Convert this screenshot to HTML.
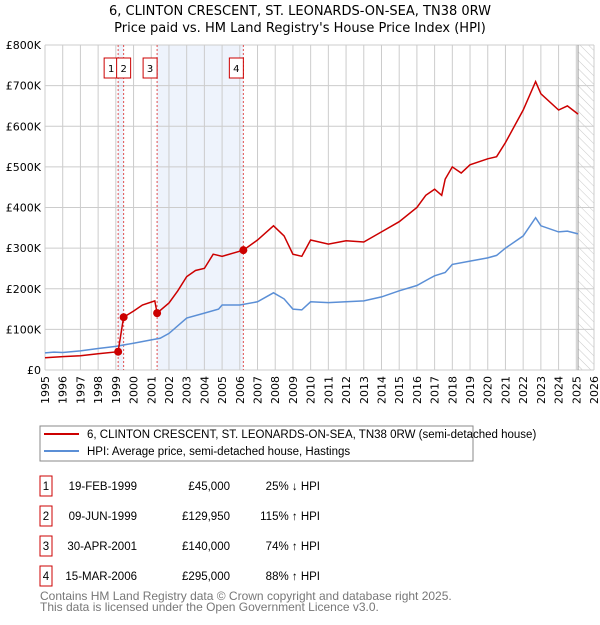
<!DOCTYPE html>
<html><head><meta charset="utf-8"><style>
body{margin:0;background:#fff;font-family:"Liberation Sans","DejaVu Sans",sans-serif}
svg text{font-family:"DejaVu Sans","Liberation Sans",sans-serif}
svg text.lib{font-family:"Liberation Sans","DejaVu Sans",sans-serif}
</style></head><body>
<svg id="c" width="600" height="620" xmlns="http://www.w3.org/2000/svg">
<defs><pattern id="hatch" width="6" height="6" patternUnits="userSpaceOnUse" patternTransform="rotate(-45)"><line x1="0" y1="0" x2="0" y2="6" stroke="#bbb" stroke-width="0.8"/></pattern></defs>
<text x="300" y="15" text-anchor="middle" font-size="13" fill="#000">6, CLINTON CRESCENT, ST. LEONARDS-ON-SEA, TN38 0RW</text>
<text x="300" y="32" text-anchor="middle" font-size="13" fill="#000">Price paid vs. HM Land Registry's House Price Index (HPI)</text>
<g id="grid"></g><g id="marks"></g>
<rect x="40" y="426" width="433" height="35" fill="#fff" stroke="#888"/>
<line x1="44" y1="434" x2="79" y2="434" stroke="#cc0000" stroke-width="2"/>
<text class="lib" x="87" y="438" font-size="11.5">6, CLINTON CRESCENT, ST. LEONARDS-ON-SEA, TN38 0RW (semi-detached house)</text>
<line x1="44" y1="451" x2="79" y2="451" stroke="#5b8fd6" stroke-width="2"/>
<text class="lib" x="87" y="455" font-size="11.5">HPI: Average price, semi-detached house, Hastings</text>
<g id="tbl" font-size="11.5"></g>
<text class="lib" x="40" y="600" font-size="12" fill="#777">Contains HM Land Registry data © Crown copyright and database right 2025.</text>
<text class="lib" x="40" y="611" font-size="12" fill="#777">This data is licensed under the Open Government Licence v3.0.</text>
</svg>
<script>
const hpiYears=[1995,1995.5,1996,1997,1998,1999,2000,2001,2001.5,2002,2003,2004,2004.8,2005,2006,2007,2007.9,2008.5,2009,2009.5,2010,2011,2012,2013,2014,2015,2016,2016.7,2017,2017.6,2018,2019,2020,2020.5,2021,2022,2022.7,2023,2024,2024.5,2025.1];
const hpiValues=[42,44,43,47,53,58,66,74,78,90,128,140,150,160,160,168,190,175,150,148,168,166,168,170,180,195,208,225,232,240,260,268,276,282,300,330,375,355,340,342,335];
const redYears=[1995,1996,1997,1998,1999.13,1999.44,2000,2000.5,2001.2,2001.33,2002,2002.5,2003,2003.5,2004,2004.5,2005,2006.2,2007,2007.9,2008.5,2009,2009.5,2010,2011,2012,2013,2014,2015,2016,2016.5,2017,2017.4,2017.6,2018,2018.5,2019,2020,2020.5,2021,2022,2022.7,2023,2024,2024.5,2025.1];
const redValues=[30,33,35,40,45,129.95,145,160,170,140,165,195,230,245,250,285,280,295,320,355,330,285,280,320,310,318,315,340,365,400,430,445,430,470,500,485,505,520,525,560,640,710,680,640,650,630];
const saleYears=[1999.13,1999.44,2001.33,2006.2];
const saleValues=[45,129.95,140,295];
const saleLabels=["1","2","3","4"];
const saleDates=["19-FEB-1999","09-JUN-1999","30-APR-2001","15-MAR-2006"];
const salePrices=["£45,000","£129,950","£140,000","£295,000"];
const saleHpi=["25% ↓ HPI","115% ↑ HPI","74% ↑ HPI","88% ↑ HPI"];
const yTicks=[0,100,200,300,400,500,600,700,800];
const yTickLabels=["£0","£100K","£200K","£300K","£400K","£500K","£600K","£700K","£800K"];
const NS="http://www.w3.org/2000/svg";
const X0=45,X1=594,Y0=370,Y1=45;
const sx=y=>X0+(y-1995)*(X1-X0)/31, sy=v=>Y0-v*(Y0-Y1)/800;
function mk(p,t,a){const e=document.createElementNS(NS,t);for(const k in a)e.setAttribute(k,a[k]);p.appendChild(e);return e;}
const g=document.getElementById('grid'),m=document.getElementById('marks'),tb=document.getElementById('tbl');
let s1=mk(g,'rect',{x:sx(saleYears[0]),y:Y1,width:sx(saleYears[1])-sx(saleYears[0]),height:Y0-Y1,fill:'#eef3fc'});


let s2=mk(g,'rect',{x:sx(saleYears[2]),y:Y1,width:sx(saleYears[3])-sx(saleYears[2]),height:Y0-Y1,fill:'#eef3fc'});


let h=mk(g,'rect',{x:sx(2025.1),y:Y1,width:X1-sx(2025.1),height:Y0-Y1,fill:'url(#hatch)'});


for(let yr=1995;yr<=2026;yr++){
  mk(g,'line',{x1:sx(yr),x2:sx(yr),y1:Y1,y2:Y0,stroke:'#ccc','stroke-width':1});
  const t=mk(g,'text',{x:0,y:0,'font-size':11,'text-anchor':'end',transform:`translate(${sx(yr)+4},${Y0+6}) rotate(-90)`});
  t.textContent=yr;
  
  
}
yTicks.forEach((v,i)=>{
  mk(g,'line',{x1:X0,x2:X1,y1:sy(v),y2:sy(v),stroke:'#ccc','stroke-width':1});
  const t=mk(g,'text',{x:X0-4,y:sy(v)+4,'font-size':11,'text-anchor':'end'});
  t.textContent=yTickLabels[i];
  
  
});
mk(g,'line',{x1:sx(2025.1),x2:sx(2025.1),y1:Y1,y2:Y0,stroke:'#999','stroke-width':1});
saleYears.forEach((yr,i)=>{
  mk(g,'line',{x1:sx(yr),x2:sx(yr),y1:Y1,y2:Y0,stroke:'#e05050','stroke-width':1,'stroke-dasharray':'2,2'});
});
const pts=(xs,vs)=>xs.map((x,i)=>sx(x).toFixed(1)+','+sy(vs[i]).toFixed(1)).join(' ');
let hp=mk(m,'polyline',{points:pts(hpiYears,hpiValues),fill:'none',stroke:'#5b8fd6','stroke-width':1.5});


let rp=mk(m,'polyline',{points:pts(redYears,redValues),fill:'none',stroke:'#cc0000','stroke-width':1.5});


saleYears.forEach((yr,i)=>{
  const c=mk(m,'circle',{cx:sx(yr),cy:sy(saleValues[i]),r:4,fill:'#cc0000'});
  
  
  const bxx=i==0?sx(yr)-14:(i==1?sx(yr)-7:sx(yr)-14);
  const r=mk(m,'rect',{x:bxx,y:58,width:14,height:20,fill:'#fff',stroke:'#cc0000'});
  
  
  const t=mk(m,'text',{x:bxx+7,y:72,'font-size':10,'text-anchor':'middle'});
  t.textContent=saleLabels[i];
  
  
});
saleLabels.forEach((l,i)=>{
  const y=483+i*30;
  const r=mk(tb,'rect',{x:40,y:y-7,width:12,height:20,fill:'#fff',stroke:'#cc0000'});
  
  
  const cells=[[46,l,'middle'],[137,saleDates[i],'end'],[230,salePrices[i],'end'],[320,saleHpi[i],'end']];
  cells.forEach(([x,s,a],j)=>{
    const t=mk(tb,'text',{x:x,y:y+7,'text-anchor':a,'class':'lib'});
    t.textContent=s;
    
    
  });
});
</script>
</body></html>
